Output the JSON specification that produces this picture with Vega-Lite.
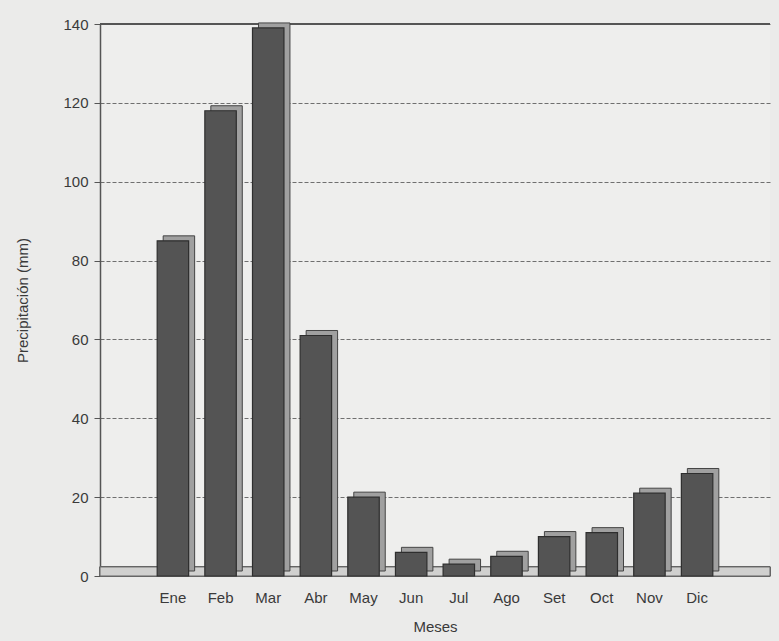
{
  "$schema": "https://vega.github.io/schema/vega-lite/v6.json",
  "autosize": "none",
  "width": 670,
  "height": 552,
  "padding": {"left": 100, "top": 24, "right": 9, "bottom": 65},
  "background": "#ebebea",
  "config": {
    "font": "Liberation Sans",
    "view": {"stroke": null, "fill": "#eeeeed"},
    "axis": {"labelFont": "Liberation Sans", "titleFont": "Liberation Sans", "labelColor": "#3a3a3a", "titleColor": "#3a3a3a", "labelFontSize": 15, "titleFontSize": 15, "titleFontWeight": "normal", "domainColor": "#555", "tickColor": "#555"}
  },
  "data": {"values": [
    {"mes": "Ene", "mm": 85},
    {"mes": "Feb", "mm": 118},
    {"mes": "Mar", "mm": 139},
    {"mes": "Abr", "mm": 61},
    {"mes": "May", "mm": 20},
    {"mes": "Jun", "mm": 6},
    {"mes": "Jul", "mm": 3},
    {"mes": "Ago", "mm": 5},
    {"mes": "Set", "mm": 10},
    {"mes": "Oct", "mm": 11},
    {"mes": "Nov", "mm": 21},
    {"mes": "Dic", "mm": 26}
  ]},
  "encoding": {
    "y": {"field": "mm", "type": "quantitative",
      "scale": {"domain": [0, 140], "nice": false},
      "axis": {"title": "Precipitación (mm)", "values": [0, 20, 40, 60, 80, 100, 120, 140], "grid": true, "gridDash": [4, 2], "gridColor": "#6f6f6f", "gridWidth": 1, "tickSize": 6, "labelPadding": 6, "titlePadding": 32, "domainWidth": 1.5}}
  },
  "layer": [
    {
      "mark": {"type": "bar", "fill": "#d0d0cf", "stroke": "#666", "strokeWidth": 1},
      "encoding": {"x": {"value": 0}, "x2": {"value": "width"}, "y": {"datum": 0}, "y2": {"datum": 2.3}}
    },
    {
      "mark": {"type": "rule", "color": "#555", "strokeWidth": 2},
      "encoding": {"x": {"value": 0}, "x2": {"value": "width"}, "y": {"datum": 140}}
    },
    {
      "mark": {"type": "bar", "fill": "#a0a0a0", "stroke": "#444", "strokeWidth": 1, "xOffset": 6, "x2Offset": 6, "yOffset": -5, "y2Offset": -5},
      "encoding": {
        "x": {"field": "mes", "type": "nominal", "sort": null,
          "scale": {"domain": ["_a", "Ene", "Feb", "Mar", "Abr", "May", "Jun", "Jul", "Ago", "Set", "Oct", "Nov", "Dic", "_b"], "paddingInner": 0.34, "paddingOuter": 0.2},
          "axis": {"title": "Meses", "labelAngle": 0, "ticks": false, "labelPadding": 14, "titlePadding": 14, "domain": false, "labelExpr": "indexof(['_a','_b'], datum.value) >= 0 ? '' : datum.value"}}
      }
    },
    {
      "mark": {"type": "bar", "fill": "#545454", "stroke": "#2e2e2e", "strokeWidth": 1.2},
      "encoding": {
        "x": {"field": "mes", "type": "nominal", "sort": null}
      }
    }
  ]
}
